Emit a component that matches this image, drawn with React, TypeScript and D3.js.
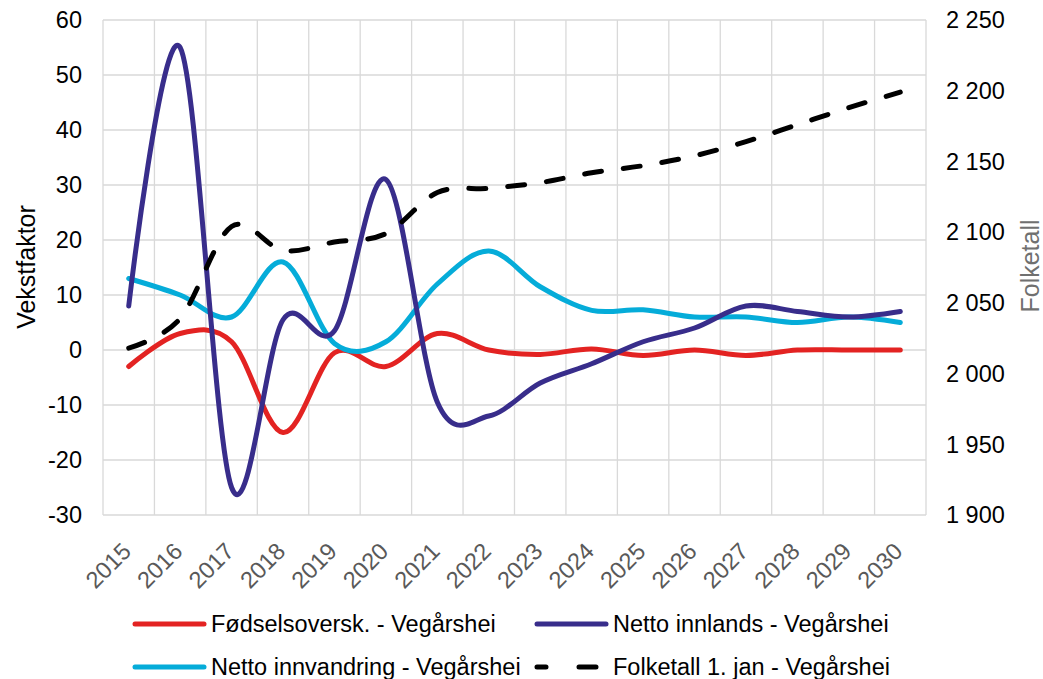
import React, { useEffect, useRef } from 'react';
import * as d3 from 'd3';

const years = ['2015', '2016', '2017', '2018', '2019', '2020', '2021', '2022', '2023', '2024', '2025', '2026', '2027', '2028', '2029', '2030'];
const fodsel = [-3, 3, 1.5, -15, -0.5, -3, 3, 0, -0.8, 0.2, -1, 0, -1, 0, 0, 0];
const innlands = [8, 55, -25, 5.5, 3.5, 31, -9.5, -12, -6, -2.5, 1.5, 4, 8, 7, 6, 7];
const innvandring = [13, 10, 6, 16, 1.2, 1.5, 12, 18, 11.5, 7.2, 7.3, 6, 6, 5, 6, 5];
const folketall = [2018, 2039, 2104, 2087, 2093, 2099, 2128, 2131, 2135, 2142, 2147, 2154, 2164, 2176, 2188, 2199];
const leftTicks = [-30, -20, -10, 0, 10, 20, 30, 40, 50, 60];
const rightTicks = [1900, 1950, 2000, 2050, 2100, 2150, 2200, 2250];

const font = 'Liberation Sans, Arial, sans-serif';

const App = () => {
  const ref = useRef<SVGSVGElement>(null);

  useEffect(() => {
    const svg = d3.select(ref.current);
    svg.selectAll('*').remove();
    const left = 103, right = 926, top = 20, bottom = 515;

    const x = d3.scaleBand().domain(years).range([left, right]);
    const y = d3.scaleLinear().domain([-30, 60]).range([bottom, top]);
    const y2 = d3.scaleLinear().domain([1900, 2250]).range([bottom, top]);
    const cx = (d: string) => (x(d) as number) + x.bandwidth() / 2;

    // gridlines
    const grid = svg.append('g').attr('stroke', '#d9d9d9').attr('stroke-width', 1.3);
    leftTicks.forEach((t) => {
      grid.append('line').attr('x1', left).attr('x2', right).attr('y1', y(t)).attr('y2', y(t));
    });
    years.forEach((yr) => {
      grid.append('line').attr('x1', x(yr) as number).attr('x2', x(yr) as number).attr('y1', top).attr('y2', bottom);
    });
    grid.append('line').attr('x1', right).attr('x2', right).attr('y1', top).attr('y2', bottom);

    svg.append('g').selectAll('text').data(leftTicks).enter().append('text')
      .attr('x', 82).attr('y', (d) => y(d)).attr('dy', '0.35em')
      .attr('text-anchor', 'end').attr('font-size', 23.5).attr('font-family', font)
      .text((d) => d);

    svg.append('g').selectAll('text').data(rightTicks).enter().append('text')
      .attr('x', 946).attr('y', (d) => y2(d)).attr('dy', '0.35em')
      .attr('font-size', 23.5).attr('font-family', font)
      .text((d) => d3.format(',')(d).replace(',', ' '));

    svg.append('g').selectAll('text').data(years).enter().append('text')
      .attr('transform', (d) => `translate(${cx(d) - 2},${547}) rotate(-45)`)
      .attr('text-anchor', 'end').attr('dy', '0.35em')
      .attr('font-size', 23.5).attr('font-family', font).attr('fill', '#595959')
      .text((d) => d);

    svg.append('text').attr('transform', `translate(35,${267}) rotate(-90)`)
      .attr('text-anchor', 'middle').attr('font-size', 25).attr('font-family', font)
      .text('Vekstfaktor');
    svg.append('text').attr('transform', `translate(1039,${266}) rotate(-90)`)
      .attr('text-anchor', 'middle').attr('font-size', 25).attr('font-family', font).attr('fill', '#707070')
      .text('Folketall');

    const curve = d3.curveCardinal.tension(0);
    const line = d3.line<number>().x((_, i) => cx(years[i])).y((d) => y(d)).curve(curve);
    const line2 = d3.line<number>().x((_, i) => cx(years[i])).y((d) => y2(d)).curve(curve);

    const series = [
      { data: fodsel, color: '#e32322' },
      { data: innvandring, color: '#05acd9' },
      { data: innlands, color: '#382d8b' },
    ];
    series.forEach((s) => {
      svg.append('path').attr('d', line(s.data)).attr('fill', 'none')
        .attr('stroke', s.color).attr('stroke-width', 5).attr('stroke-linecap', 'round');
    });
    svg.append('path').attr('d', line2(folketall)).attr('fill', 'none')
      .attr('stroke', '#000').attr('stroke-width', 5).attr('stroke-linecap', 'round')
      .attr('stroke-dasharray', '17 22');

    const legend = [
      { label: 'Fødselsoversk. - Vegårshei', color: '#e32322', x: 135, y: 624, dash: false },
      { label: 'Netto innlands - Vegårshei', color: '#382d8b', x: 537, y: 624, dash: false },
      { label: 'Netto innvandring - Vegårshei', color: '#05acd9', x: 135, y: 667, dash: false },
      { label: 'Folketall 1. jan - Vegårshei', color: '#000', x: 537, y: 667, dash: true },
    ];
    legend.forEach((l) => {
      svg.append('line').attr('x1', l.x).attr('x2', l.dash ? l.x + 59 : l.x + 69).attr('y1', l.y).attr('y2', l.y)
        .attr('stroke', l.color).attr('stroke-width', 5).attr('stroke-linecap', 'round')
        .attr('stroke-dasharray', l.dash ? '9 33 17' : null);
      svg.append('text').attr('x', l.x + 76).attr('y', l.y).attr('dy', '0.35em')
        .attr('font-size', 23.5).attr('font-family', font).text(l.label);
    });
  }, []);

  return <svg ref={ref} width={1043} height={679} style={{ position: 'absolute', left: 0, top: 0 }} />;
};

export default App;
